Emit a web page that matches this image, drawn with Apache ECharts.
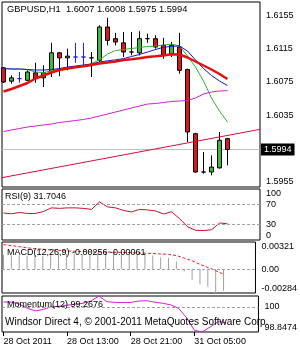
<!DOCTYPE html>
<html><head><meta charset="utf-8">
<script src="https://cdn.jsdelivr.net/npm/echarts@6/dist/echarts.min.js"></script>
<style>html,body{margin:0;padding:0;background:#fff}#c{width:300px;height:350px}</style>
</head><body><div id="c"></div>
<script>
// ---------- data ----------
const bars = [0,1,2,3,4,5,6,7,8,9,10,11,12,13,14,15,16,17,18,19,20,21,22,23,24,25,26,27,28];
const tickBars = [0, 8, 16, 24];
const tickLabels = ['28 Oct 2011', '28 Oct 13:00', '28 Oct 21:00', '31 Oct 05:00'];

const open  = [1.6092,1.6076,1.6079,1.6077,1.6086,1.6080,1.6087,1.6110,1.6104,1.6105,1.6105,1.6104,1.6101,1.6141,1.6127,1.6122,1.6111,1.6110,1.6127,1.6127,1.6119,1.6109,1.6117,1.6090,1.6013,1.5967,1.5967,1.5972,1.6007];
const close = [1.6075,1.6080,1.6079,1.6087,1.6079,1.6086,1.6110,1.6104,1.6106,1.6105,1.6105,1.6104,1.6141,1.6125,1.6123,1.6111,1.6111,1.6127,1.6127,1.6117,1.6107,1.6119,1.6089,1.6015,1.5967,1.5967,1.5973,1.6005,1.5994];
const low   = [1.6074,1.6073,1.6074,1.6076,1.6074,1.6069,1.6081,1.6082,1.6089,1.6098,1.6093,1.6081,1.6099,1.6119,1.6119,1.6105,1.6107,1.6107,1.6122,1.6115,1.6103,1.6105,1.6085,1.6003,1.5966,1.5965,1.5963,1.5971,1.5975];
const high  = [1.6093,1.6083,1.6087,1.6089,1.6098,1.6095,1.6122,1.6111,1.6115,1.6122,1.6122,1.6111,1.6143,1.6152,1.6134,1.6135,1.6135,1.6136,1.6133,1.6131,1.6128,1.6123,1.6134,1.6091,1.6014,1.5991,1.5987,1.6015,1.6008];

const maRed   = [1.60636,1.60666,1.60702,1.60738,1.60792,1.60828,1.60864,1.60894,1.60912,1.60926,1.60938,1.60954,1.60972,1.60984,1.60996,1.61014,1.61022,1.61034,1.61050,1.61058,1.61068,1.61082,1.61080,1.61044,1.60996,1.60948,1.60900,1.60846,1.60786];
const maBlue  = [1.60912,1.60906,1.60906,1.60900,1.60894,1.60894,1.60900,1.60912,1.60930,1.60942,1.60954,1.60966,1.60990,1.61004,1.61016,1.61030,1.61056,1.61080,1.61110,1.61140,1.61166,1.61178,1.61182,1.61122,1.61014,1.60912,1.60828,1.60762,1.60708];
const maGreen = [1.60912,1.60906,1.60906,1.60900,1.60870,1.60864,1.60882,1.60906,1.60918,1.60930,1.60942,1.60972,1.61014,1.61086,1.61128,1.61140,1.61152,1.61164,1.61176,1.61182,1.61194,1.61206,1.61182,1.61062,1.60930,1.60762,1.60558,1.60402,1.60270];
const maMagenta = [1.60156,1.60174,1.60192,1.60210,1.60222,1.60234,1.60246,1.60264,1.60276,1.60288,1.60300,1.60318,1.60342,1.60366,1.60390,1.60414,1.60438,1.60462,1.60486,1.60492,1.60504,1.60516,1.60522,1.60528,1.60558,1.60606,1.60630,1.60642,1.60646];
const trendX = [-0.1875, 32.0625];
const trendY = [1.59602, 1.60182];
const bid = 1.5994;
const priceTicks = [1.5955, 1.6035, 1.6075, 1.6115, 1.6155];

const rsi = [53,51.4,54,52,52,56,63,62,63,63,62,60,74.6,65,63,58,55,60,59,57,51,55.4,42,26,19,18.6,20,33.4,31.7046];
const rsiTicks = [0, 30, 70, 100];
const rsiLevels = [30, 70];

const macdMain   = [0.00170,0.00165,0.00160,0.00160,0.00160,0.00158,0.00175,0.00175,0.00178,0.00180,0.00180,0.00175,0.00195,0.00200,0.00198,0.00185,0.00175,0.00180,0.00178,0.00160,0.00140,0.00130,0.00090,-0.00030,-0.00130,-0.00180,-0.00210,-0.00284,-0.00256];
const macdSignal = [0.00290,0.00278,0.00266,0.00253,0.00241,0.00235,0.00228,0.00222,0.00216,0.00210,0.00210,0.00204,0.00204,0.00202,0.00200,0.00198,0.00196,0.00191,0.00188,0.00185,0.00179,0.00173,0.00161,0.00130,0.00099,0.00056,0.00019,-0.00019,-0.00061];
const macdTicks = [-0.00284, 0, 0.00321];

const momentum = [100.22,100.21,100.12,99.93,99.81,99.88,100.00,100.02,100.07,100.12,100.16,100.26,100.4915,100.23,100.20,100.19,100.20,100.26,100.28,100.21,100.16,100.09,99.93,99.51,98.93,98.8474,99.08,99.32,99.2676];
const momTicks = [98.8474, 100, 100.4915];
const momLevel = 100;

const headerText = 'GBPUSD,H1  1.6007 1.6008 1.5975 1.5994';
const rsiText = 'RSI(9) 31.7046';
const macdText = 'MACD(12,26,9) -0.00256 -0.00061';
const momText = 'Momentum(12) 99.2676';
const copyText = 'Windsor Direct 4, \u00A9 2001-2011 MetaQuotes Software Corp.';

// ---------- style ----------
const FONT = '"Liberation Sans", Arial, sans-serif';
const blueDoji = [2, 9, 10];
const X_MIN = -0.1875, X_MAX = 32.0625;

const chart = echarts.init(document.getElementById('c'), null, {renderer: 'canvas'});

const grids = [
  {left: 2, right: 40, top: 2, height: 185},
  {left: 2, right: 40, top: 189, height: 51},
  {left: 2, right: 40, top: 242, height: 51},
  {left: 2, right: 40, top: 296, height: 36}
].map(g => Object.assign(g, {show: true, borderColor: '#000', borderWidth: 1, backgroundColor: '#fff', containLabel: false}));

function hiddenX(i) {
  return {type: 'value', gridIndex: i, min: X_MIN, max: X_MAX, show: false, splitLine: {show: false}};
}
const xAxes = [hiddenX(0), hiddenX(1), hiddenX(2), {
  type: 'value', gridIndex: 3, min: X_MIN, max: X_MAX,
  axisLine: {show: false}, splitLine: {show: false},
  axisTick: {show: true, customValues: tickBars, length: 4, lineStyle: {color: '#000'}},
  axisLabel: {customValues: tickBars, formatter: v => tickLabels[tickBars.indexOf(Math.round(v))] || '',
              align: 'left', margin: 5, fontSize: 9, fontFamily: FONT, color: '#000'}
}];

function yAx(i, min, max, ticks, fmt) {
  return {
    type: 'value', gridIndex: i, position: 'right', min: min, max: max,
    axisLine: {show: false}, axisTick: {show: false}, splitLine: {show: false},
    axisLabel: {customValues: ticks, formatter: fmt, fontSize: 9, fontFamily: FONT, color: '#000', margin: 6,
                verticalAlignMinLabel: i === 0 ? 'middle' : 'bottom',
                verticalAlignMaxLabel: i === 0 ? 'middle' : 'top'}
  };
}
const yAxes = [
  yAx(0, 1.5949, 1.6171, priceTicks, v => v.toFixed(4)),
  yAx(1, 0, 100, rsiTicks, v => String(Math.round(v))),
  yAx(2, -0.00284, 0.00321, macdTicks, v => Math.abs(v) < 1e-9 ? '0.00' : v.toFixed(5)),
  yAx(3, 98.8474, 100.4915, momTicks, v => Math.abs(v - 100) < 1e-9 ? '100' : v.toFixed(4))
];

const candleData = bars.map(i => {
  const item = {value: [i, open[i], close[i], low[i], high[i]]};
  if (blueDoji.indexOf(i) >= 0) item.itemStyle = {borderColor: '#2020ff', borderColor0: '#2020ff', borderColorDoji: '#2020ff'};
  return item;
});

const pairs = arr => bars.map(i => [i, arr[i]]);
const dashLine = {color: '#a0a0a0', type: [3, 2], width: 1};

function lineSeries(xi, data, color, width, z, extra) {
  return Object.assign({
    type: 'line', xAxisIndex: xi, yAxisIndex: xi, data: data, symbol: 'none', showSymbol: false,
    lineStyle: {color: color, width: width}, itemStyle: {color: color}, z: z, silent: true, clip: true
  }, extra || {});
}

function levelLines(values) {
  return {silent: true, symbol: ['none', 'none'], label: {show: false}, lineStyle: dashLine,
          data: values.map(v => ({yAxis: v}))};
}

const series = [
  // bid line with price tag
  lineSeries(0, [[X_MIN, bid], [X_MAX, bid]], '#c0c0c0', 1, 2, {
    endLabel: {show: true, formatter: () => bid.toFixed(4), distance: 1,
               backgroundColor: '#000', color: '#fff', padding: [2, 3, 1, 3], fontSize: 9, fontFamily: FONT}
  }),
  {
    type: 'candlestick', xAxisIndex: 0, yAxisIndex: 0, data: candleData,
    encode: {x: 0, y: [1, 2, 3, 4]}, barWidth: 5, z: 3, clip: true,
    itemStyle: {color: '#3cb83c', color0: '#e01414', borderColor: '#000', borderColor0: '#000', borderColorDoji: '#000', borderWidth: 1}
  },
  lineSeries(0, trendX.map((x, k) => [x, trendY[k]]), '#d0103a', 1, 4),
  lineSeries(0, pairs(maMagenta), '#cc22cc', 1, 4),
  lineSeries(0, pairs(maGreen), '#2eb02e', 1, 4),
  lineSeries(0, pairs(maBlue), '#1515d0', 1, 5),
  lineSeries(0, pairs(maRed), '#e01010', 2.5, 6),
  lineSeries(1, pairs(rsi), '#c8102e', 1, 4, {markLine: levelLines(rsiLevels)}),
  {
    type: 'bar', xAxisIndex: 2, yAxisIndex: 2, data: pairs(macdMain), barWidth: 1,
    itemStyle: {color: '#a0a0a0'}, silent: true, z: 3,
    markLine: levelLines([0])
  },
  lineSeries(2, pairs(macdSignal), '#e02020', 1, 4, {lineStyle: {color: '#e02020', width: 1, type: [3, 2]}}),
  lineSeries(3, pairs(momentum), '#cc22cc', 1, 4, {markLine: levelLines([momLevel])})
];

function ttl(text, left, top, size) {
  return {text: text, left: left, top: top, padding: 0, z: 10,
          textStyle: {fontSize: size, fontWeight: 'normal', fontFamily: FONT, color: '#000'}};
}

chart.setOption({
  animation: false,
  backgroundColor: '#fff',
  title: [
    ttl(headerText, 7, 5, 9.3),
    ttl(rsiText, 5, 192, 9),
    ttl(macdText, 7, 248, 9),
    ttl(momText, 7, 300, 9),
    ttl(copyText, 5, 317, 10)
  ],
  grid: grids,
  xAxis: xAxes,
  yAxis: yAxes,
  series: series
});
</script>
</body></html>
